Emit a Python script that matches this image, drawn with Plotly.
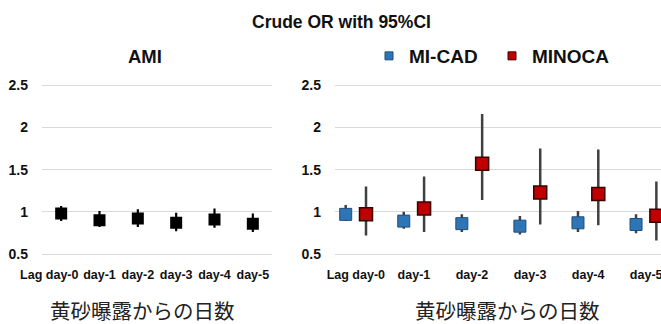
import numpy as np
import plotly.graph_objects as go

# ---------------- data ----------------
categories = ["Lag day-0", "day-1", "day-2", "day-3", "day-4", "day-5"]

ami_or = [0.98, 0.90, 0.92, 0.87, 0.91, 0.86]
ami_lo = [0.89, 0.82, 0.82, 0.77, 0.81, 0.76]
ami_hi = [1.07, 1.01, 1.03, 0.99, 1.04, 0.98]

micad_or = [0.97, 0.89, 0.86, 0.83, 0.87, 0.85]
micad_lo = [0.89, 0.80, 0.76, 0.73, 0.76, 0.745]
micad_hi = [1.08, 1.00, 0.97, 0.95, 1.01, 0.97]

minoca_or = [0.97, 1.04, 1.57, 1.23, 1.21, 0.955]
minoca_lo = [0.72, 0.76, 1.14, 0.85, 0.84, 0.66]
minoca_hi = [1.30, 1.42, 2.16, 1.75, 1.74, 1.36]

y_ticks = [0.5, 1, 1.5, 2, 2.5]
y_ticktext = ["0.5", "1", "1.5", "2", "2.5"]

title_text = "Crude OR with 95%CI"
left_title = "AMI"
x_title = "黄砂曝露からの日数"
series_names = ["MI-CAD", "MINOCA"]

# ---------------- styling ----------------
W, H = 661, 324
FONT = "Liberation Sans, Arial, sans-serif"
CJK = "Noto Sans CJK JP, sans-serif"
TXT = "#111111"
GRID = "#d9d9d9"
ERR = "#404040"
BLUE, BLUE_LINE = "#2E75B6", "#1F4E79"
RED, RED_LINE = "#C00000", "#3a0000"
DODGE = 0.175

idx = np.arange(len(categories))


def err(v, lo, hi):
    v, lo, hi = map(np.asarray, (v, lo, hi))
    return dict(type="data", symmetric=False, array=hi - v, arrayminus=v - lo,
                width=0, thickness=2.5, color=ERR)


fig = go.Figure()

# left panel: AMI
fig.add_trace(go.Scatter(
    x=idx, y=ami_or, mode="markers", xaxis="x", yaxis="y", showlegend=False,
    marker=dict(symbol="square", size=12, color="#000000", line=dict(width=0)),
    error_y=dict(err(ami_or, ami_lo, ami_hi), color="#000000", thickness=2.2),
))

# right panel: MI-CAD / MINOCA
fig.add_trace(go.Scatter(
    x=idx - DODGE, y=micad_or, mode="markers", xaxis="x2", yaxis="y2", showlegend=False,
    marker=dict(symbol="square", size=12, color=BLUE, line=dict(width=1, color=BLUE_LINE)),
    error_y=err(micad_or, micad_lo, micad_hi),
))
fig.add_trace(go.Scatter(
    x=idx + DODGE, y=minoca_or, mode="markers", xaxis="x2", yaxis="y2", showlegend=False,
    marker=dict(symbol="square", size=13, color=RED, line=dict(width=1.5, color=RED_LINE)),
    error_y=err(minoca_or, minoca_lo, minoca_hi),
))

# legend entries (small squares)
for name, c, lc in [(series_names[0], BLUE, BLUE_LINE), (series_names[1], RED, RED_LINE)]:
    fig.add_trace(go.Scatter(
        x=[None], y=[None], mode="markers", name=name, xaxis="x2", yaxis="y2",
        marker=dict(symbol="square", size=8, color=c, line=dict(width=1, color=lc)),
    ))

# in the narrow left panel the first (long) label sits a little left of its category
left_tickvals = idx.astype(float)
left_tickvals[0] -= 0.31

yr = [0.48, 2.52]
ydom = [1 - 255.7 / H, 1 - 83.6 / H]

common_x = dict(showgrid=False, zeroline=False, showline=False, ticks="outside",
                ticklen=7, tickcolor="rgba(0,0,0,0)", tickangle=0, automargin=False,
                ticklabeloverflow="allow",
                tickfont=dict(family=FONT, size=12.5, color=TXT, weight="bold"))
common_y = dict(range=yr, domain=ydom, tickvals=y_ticks, ticktext=y_ticktext,
                showgrid=True, gridcolor=GRID, gridwidth=1, zeroline=False,
                showline=False, ticklabelstandoff=13, automargin=False,
                tickfont=dict(family=FONT, size=14, color=TXT, weight="bold"))

x0r = (335 - 355.85) / 58.07
x1r = 5 + (661 - 646.2) / 58.07

fig.update_layout(
    width=W, height=H, margin=dict(l=0, r=0, t=0, b=0, autoexpand=False),
    paper_bgcolor="white", plot_bgcolor="white",
    xaxis=dict(common_x, domain=[42 / W, 272 / W], range=[-0.5, 5.5],
               tickvals=list(left_tickvals), ticktext=categories, anchor="y"),
    yaxis=dict(common_y, anchor="x"),
    xaxis2=dict(common_x, domain=[335 / W, 1.0], range=[x0r, x1r],
                tickvals=list(idx), ticktext=categories, anchor="y2"),
    yaxis2=dict(common_y, anchor="x2"),
    showlegend=True,
    legend=dict(orientation="h", x=369 / W, xanchor="left", y=1 - 56 / H,
                yanchor="middle", bgcolor="rgba(0,0,0,0)", entrywidth=78,
                font=dict(family=FONT, size=19, color=TXT, weight="bold"),
                itemclick=False, tracegroupgap=0),
    annotations=[
        dict(text=title_text, x=342 / W, y=1 - 22 / H, xref="paper", yref="paper",
             xanchor="center", yanchor="middle", showarrow=False,
             font=dict(family=FONT, size=17.5, color=TXT, weight="bold")),
        dict(text=left_title, x=145 / W, y=1 - 56 / H, xref="paper", yref="paper",
             xanchor="center", yanchor="middle", showarrow=False,
             font=dict(family=FONT, size=18.5, color=TXT, weight="bold")),
        dict(text=x_title, x=142 / W, y=1 - 310 / H, xref="paper", yref="paper",
             xanchor="center", yanchor="middle", showarrow=False,
             font=dict(family=CJK, size=20.5, color="#222222")),
        dict(text=x_title, x=507 / W, y=1 - 310 / H, xref="paper", yref="paper",
             xanchor="center", yanchor="middle", showarrow=False,
             font=dict(family=CJK, size=20.5, color="#222222")),
    ],
)

fig.write_html("out.html")
